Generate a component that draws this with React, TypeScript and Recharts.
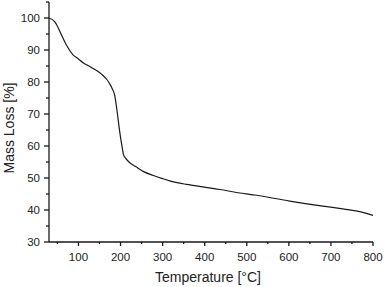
import { Line, LineChart, XAxis, YAxis } from 'recharts';

const temperature = [30, 44, 60, 72, 87, 100, 111, 125, 135, 150, 158, 168, 174, 180, 186, 192, 198, 204, 207, 212, 220, 238, 255, 278, 300, 317, 357, 396, 436, 479, 523, 602, 681, 720, 760, 780, 800];
const massLoss = [100, 98.8, 94.6, 91.4, 88.5, 87.2, 86, 85, 84.2, 83, 82.1, 80.7, 79.5, 78, 75.9, 70.7, 64.5, 59.5, 57.3, 56.2, 55, 53.4, 52, 50.8, 49.8, 49.1, 48, 47.2, 46.4, 45.4, 44.6, 42.8, 41.2, 40.5, 39.7, 39.1, 38.3];

const xTicks = [50, 100, 150, 200, 250, 300, 350, 400, 450, 500, 550, 600, 650, 700, 750, 800];
const yTicks = [30, 35, 40, 45, 50, 55, 60, 65, 70, 75, 80, 85, 90, 95, 100, 105];

const data = temperature.map((t, i) => ({ t, m: massLoss[i] }));

const font = '"Liberation Sans", Arial, sans-serif';
const ink = '#222';
const axisInk = '#1a1a1a';

// ticks drawn by hand so minor ticks get no label
function XTick({ x, y, payload }: any) {
  const major = payload.value % 100 === 0;
  return (
    <g>
      <path d={`M${x},${y}v${major ? 4 : 2}`} stroke={axisInk} strokeWidth={1.3} fill="none" />
      {major && (
        <text x={x} y={y + 19} textAnchor="middle" fontSize={11.5} fontFamily={font} fill={ink} stroke="none">
          {payload.value}
        </text>
      )}
    </g>
  );
}

function YTick({ x, y, payload }: any) {
  const major = payload.value % 10 === 0 && payload.value <= 100;
  return (
    <g>
      <path d={`M${x},${y}h${major ? -5 : -3}`} stroke={axisInk} strokeWidth={1.3} fill="none" />
      {major && (
        <text x={x - 9} y={y + 4} textAnchor="end" fontSize={11.5} fontFamily={font} fill={ink} stroke="none">
          {payload.value}
        </text>
      )}
    </g>
  );
}

export default function App() {
  return (
    <div style={{ width: 386, height: 287, background: '#fff' }}>
      <style>{'body { margin: 0; overflow: hidden; }'}</style>
      <LineChart width={386} height={287} data={data} margin={{ top: 2, right: 13, left: 0, bottom: 0 }}>
        <XAxis
          dataKey="t"
          type="number"
          domain={[30, 800]}
          ticks={xTicks}
          interval={0}
          height={45}
          tickSize={0}
          tickMargin={0}
          tick={<XTick />}
          stroke={axisInk}
          axisLine={{ stroke: axisInk, strokeWidth: 1.3 }}
          label={({ viewBox }: any) => (
            <text x={viewBox.x + viewBox.width / 2 - 3} y={viewBox.y + 40} textAnchor="middle" fontSize={14} fontFamily={font} fill={ink}>
              Temperature [°C]
            </text>
          )}
        />
        <YAxis
          type="number"
          domain={[30, 105]}
          ticks={yTicks}
          interval={0}
          width={49}
          tickSize={0}
          tickMargin={0}
          tick={<YTick />}
          stroke={axisInk}
          axisLine={{ stroke: axisInk, strokeWidth: 1.3 }}
          label={({ viewBox }: any) => {
            const cx = viewBox.x + 14;
            const cy = viewBox.y + viewBox.height / 2 + 6;
            return (
              <text x={cx} y={cy} transform={`rotate(-90 ${cx} ${cy})`} textAnchor="middle" fontSize={14} fontFamily={font} fill={ink}>
                Mass Loss [%]
              </text>
            );
          }}
        />
        <Line type="monotone" dataKey="m" stroke="#1a1a1a" strokeWidth={1.2} dot={false} isAnimationActive={false} />
      </LineChart>
    </div>
  );
}
